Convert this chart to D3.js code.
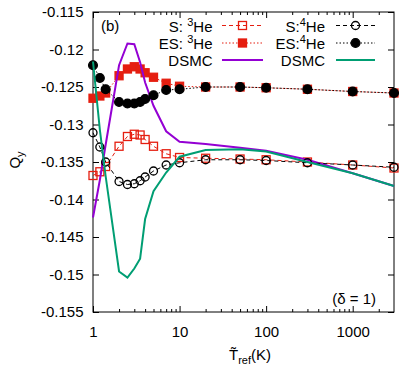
<!DOCTYPE html>
<html>
<head>
<meta charset="utf-8">
<script src="https://cdn.jsdelivr.net/npm/d3@7"></script>
<style>
  body { margin: 0; background: #fff; }
  text { font-family: "Liberation Sans", Arial, Helvetica, sans-serif; font-size: 15px; fill: #000; }
</style>
</head>
<body>
<svg id="chart" width="399" height="365"></svg>
<script>
// reference temperatures (K)
var temps = [1, 1.2, 1.4, 2, 2.5, 3, 3.5, 4, 5, 7, 10, 20, 50, 100, 300, 1000, 3000];

// Q_y values
var s3He  = [-0.1368, -0.1363, -0.1356, -0.1329, -0.1316, -0.1313, -0.1314, -0.1320, -0.1329, -0.1339, -0.1344, -0.1345, -0.1346, -0.1347, -0.1350, -0.1354, -0.1358];
var es3He = [-0.1265, -0.1262, -0.1258, -0.1235, -0.1226, -0.1223, -0.1226, -0.1231, -0.1237, -0.1245, -0.1249, -0.1250, -0.1250, -0.1251, -0.1253, -0.1256, -0.1258];
var s4He  = [-0.1311, -0.1330, -0.1350, -0.1376, -0.1380, -0.1379, -0.1375, -0.1370, -0.1362, -0.1354, -0.1351, -0.1347, -0.1347, -0.1348, -0.1351, -0.1354, -0.1357];
var es4He = [-0.1221, -0.1238, -0.1253, -0.1270, -0.1272, -0.1272, -0.1270, -0.1266, -0.1261, -0.1254, -0.1253, -0.1250, -0.1250, -0.1251, -0.1253, -0.1256, -0.1258];
var dsmc3He = [-0.1424, -0.1374, -0.1327, -0.1221, -0.1192, -0.1193, -0.1217, -0.1244, -0.1275, -0.1309, -0.1323, -0.1326, -0.1331, -0.1335, -0.1347, -0.1365, -0.1382];
var dsmc4He = [-0.1216, -0.1307, -0.1369, -0.1496, -0.1504, -0.1492, -0.1479, -0.1426, -0.1389, -0.1364, -0.1343, -0.1334, -0.1333, -0.1336, -0.1350, -0.1365, -0.1382];

var xTicks = [1, 10, 100, 1000];
var yTicks = [-0.155, -0.15, -0.145, -0.14, -0.135, -0.13, -0.125, -0.12, -0.115];

var red = "#e51e10", purple = "#9400d3", green = "#009e73";

var svg = d3.select("#chart");
var x = d3.scaleLog().domain([1, 3000]).range([93, 394]),
    y = d3.scaleLinear().domain([-0.155, -0.115]).range([312, 12]);

var fmt = function (d) { return String(+d.toFixed(3)); };

// minor ticks on the log axis
var minor = [];
[1, 10, 100, 1000].forEach(function (p) {
  for (var k = 2; k <= 9; k++) if (p * k < 3000) minor.push(p * k);
});

// axes, ticks pointing inward on all four sides
svg.append("g").attr("transform", "translate(0,312)")
  .call(d3.axisBottom(x).tickValues(xTicks).tickFormat(d3.format("d")).tickSize(-6).tickPadding(14))
  .call(function (g) { g.select(".domain").remove(); g.selectAll("text").style("font-size", "15px").style("font-family", null); });
svg.append("g").attr("transform", "translate(0,312)")
  .call(d3.axisBottom(x).tickValues(minor).tickFormat("").tickSize(-3))
  .call(function (g) { g.select(".domain").remove(); });
svg.append("g").attr("transform", "translate(0,12)")
  .call(d3.axisTop(x).tickValues(xTicks).tickFormat("").tickSize(-6))
  .call(function (g) { g.select(".domain").remove(); });
svg.append("g").attr("transform", "translate(0,12)")
  .call(d3.axisTop(x).tickValues(minor).tickFormat("").tickSize(-3))
  .call(function (g) { g.select(".domain").remove(); });
svg.append("g").attr("transform", "translate(93,0)")
  .call(d3.axisLeft(y).tickValues(yTicks).tickFormat(fmt).tickSize(-6).tickPadding(9.5))
  .call(function (g) { g.select(".domain").remove(); g.selectAll("text").style("font-size", "15px").style("font-family", null); });
svg.append("g").attr("transform", "translate(394,0)")
  .call(d3.axisRight(y).tickValues(yTicks).tickFormat("").tickSize(-6))
  .call(function (g) { g.select(".domain").remove(); });

svg.append("rect").attr("x", 93).attr("y", 12).attr("width", 301).attr("height", 300)
  .attr("fill", "none").attr("stroke", "#000").attr("stroke-width", 1);

// series in gnuplot key order (column by column)
var series = [
  { label: "S: ", sup: "3", vals: s3He, color: red, dash: "4,3", width: 1, mark: "square", filled: false, col: 0, row: 0 },
  { label: "ES: ", sup: "3", vals: es3He, color: red, dash: "1.5,2", width: 1, mark: "square", filled: true, col: 0, row: 1 },
  { label: "DSMC", vals: dsmc3He, color: purple, dash: null, width: 2, mark: null, col: 0, row: 2 },
  { label: "S:", sup: "4", vals: s4He, color: "#000", dash: "4,3", width: 1, mark: "circle", filled: false, col: 1, row: 0 },
  { label: "ES:", sup: "4", vals: es4He, color: "#000", dash: "1.5,2", width: 1, mark: "circle", filled: true, col: 1, row: 1 },
  { label: "DSMC", vals: dsmc4He, color: green, dash: null, width: 2, mark: null, col: 1, row: 2 }
];

var line = d3.line().x(function (d) { return x(d[0]); }).y(function (d) { return y(d[1]); });

function drawMark(g, s, cx, cy) {
  if (s.mark === "square") {
    g.append("rect").attr("x", cx - 4).attr("y", cy - 4).attr("width", 8).attr("height", 8)
      .attr("fill", s.filled ? s.color : "none").attr("stroke", s.color).attr("stroke-width", 1.3);
  } else if (s.mark === "circle") {
    g.append("circle").attr("cx", cx).attr("cy", cy).attr("r", s.filled ? 4.4 : 4)
      .attr("fill", s.filled ? s.color : "none").attr("stroke", s.color).attr("stroke-width", 1.3);
  }
}

var legX = [212.5, 325], sampleX = [[222, 263], [336, 375]], rowY = [31.5, 49, 66];

series.forEach(function (s) {
  var pts = temps.map(function (t, i) { return [t, s.vals[i]]; });
  var g = svg.append("g");
  g.append("path").attr("d", line(pts)).attr("fill", "none").attr("stroke", s.color)
    .attr("stroke-width", s.width).attr("stroke-dasharray", s.dash);
  pts.forEach(function (p) { drawMark(g, s, x(p[0]), y(p[1])); });

  // key entry
  var t = svg.append("text").attr("x", legX[s.col]).attr("y", rowY[s.row]).attr("text-anchor", "end");
  t.append("tspan").text(s.label);
  if (s.sup) {
    t.append("tspan").attr("dy", -6).style("font-size", "11px").text(s.sup);
    t.append("tspan").attr("dy", 6).text("He");
  }
  var ly = rowY[s.row] - 6;
  svg.append("line").attr("x1", sampleX[s.col][0]).attr("x2", sampleX[s.col][1]).attr("y1", ly).attr("y2", ly)
    .attr("stroke", s.color).attr("stroke-width", s.width).attr("stroke-dasharray", s.dash);
  drawMark(svg, s, (sampleX[s.col][0] + sampleX[s.col][1]) / 2, ly);
});

// annotations
svg.append("text").attr("x", 101).attr("y", 31).text("(b)");
svg.append("text").attr("x", 376).attr("y", 304).attr("text-anchor", "end").text("(\u03b4 = 1)");

// axis titles
var xl = svg.append("text").attr("x", 250).attr("y", 360).attr("text-anchor", "middle");
xl.append("tspan").text("T\u0303");
xl.append("tspan").attr("dy", 4).style("font-size", "11px").text("ref");
xl.append("tspan").attr("dy", -4).text("(K)");

var yl = svg.append("text").attr("transform", "translate(20,160) rotate(-90)").attr("text-anchor", "middle");
yl.append("tspan").text("Q");
yl.append("tspan").attr("dy", 4).style("font-size", "11px").text("y");
</script>
</body>
</html>
